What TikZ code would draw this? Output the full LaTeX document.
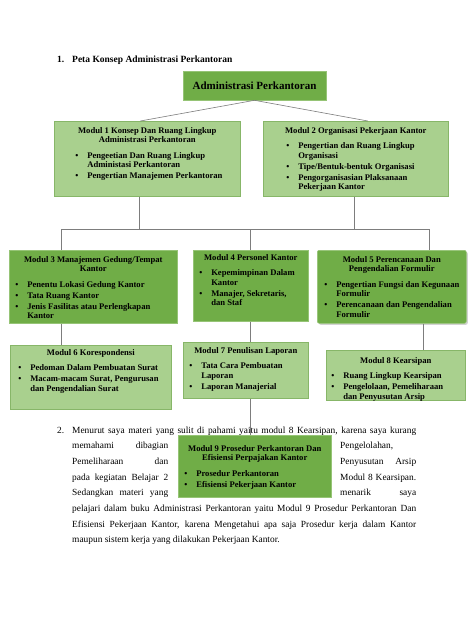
\documentclass[tikz,border=0pt]{standalone}
\usepackage{fontspec}
\setmainfont{Liberation Serif}
\usetikzlibrary{positioning, shadows}

\definecolor{grnMid}{RGB}{112,173,71}
\definecolor{grnMidEdge}{RGB}{150,196,118}
\definecolor{grnLight}{RGB}{169,208,142}
\definecolor{grnLightEdge}{RGB}{135,182,104}
\definecolor{lineGray}{RGB}{125,125,125}

\newcommand{\boxfont}{\bfseries\fontsize{8.6}{9.5}\selectfont}
\newcommand{\parafont}{\fontsize{9.4}{11}\selectfont}

% bullet lines inside a box
\newlength\bulind
\newlength\txtind
\newcommand{\itm}[1]{\par\vspace{1.5pt}{\let\\\newline
  \hangindent=\txtind\hangafter=1\noindent
  \hbox to \txtind{\hskip\bulind\textbullet\hfil}#1\par}}
% #1 width, #2 height, #3 top pad, #4 bullet indent, #5 title, #6 items
\newcommand{\panel}[6]{\parbox[c][#2][t]{#1}{\setlength\bulind{#4}%
  \setlength\txtind{\dimexpr#4+12pt\relax}\vspace*{#3}%
  {\centering #5\par}\vspace{4.5pt}\raggedright #6}}
% justified line of given width
\newcommand{\jline}[2]{\hbox to #1{\spaceskip=0.25em plus 1fil minus 0.05em\relax #2}}

\begin{document}
\begin{tikzpicture}[
    x=1pt, y=-1pt,
    midbox/.style={rectangle, draw=grnMidEdge, fill=grnMid, line width=0.6pt,
                   inner sep=0pt, anchor=north west, font=\boxfont},
    lightbox/.style={rectangle, draw=grnLightEdge, fill=grnLight, line width=0.6pt,
                   inner sep=0pt, anchor=north west, font=\boxfont},
    conn/.style={draw=lineGray, line width=0.6pt},
    para/.style={anchor=base west, inner sep=0pt, font=\parafont},
    head/.style={anchor=base west, inner sep=0pt, font=\bfseries\fontsize{9.5}{11}\selectfont}
]
\fill[white] (0,0) rectangle (474,632);
\useasboundingbox (0,0) rectangle (474,632);

% heading
\node[head] (h1num) at (57,62) {1.};
\node[head] (h1txt) at (72,62) {Peta Konsep Administrasi Perkantoran};

% root
\node[midbox, anchor=center, minimum width=143pt, minimum height=29pt,
      font=\bfseries\fontsize{11}{13}\selectfont] (top) at (254.5,85.5) {Administrasi Perkantoran};

% first level
\node[lightbox] (m1) at (54,121) {\panel{186pt}{75pt}{6pt}{21pt}
  {Modul 1 Konsep Dan Ruang Lingkup\\Administrasi Perkantoran}
  {\itm{Pengeetian Dan Ruang Lingkup\\Administasi Perkantoran}
   \itm{Pengertian Manajemen Perkantoran}}};
\node[lightbox] (m2) at (263,121) {\panel{185pt}{75pt}{6pt}{23pt}
  {Modul 2 Organisasi Pekerjaan Kantor}
  {\itm{Pengertian dan Ruang Lingkup\\Organisasi}
   \itm{Tipe/Bentuk-bentuk Organisasi}
   \itm{Pengorganisasian Plaksanaan\\Pekerjaan Kantor}}};

% second level
\node[midbox] (m3) at (9,250) {\panel{168pt}{73pt}{6pt}{6pt}
  {Modul 3 Manajemen Gedung/Tempat\\Kantor}
  {\itm{Penentu Lokasi Gedung Kantor}
   \itm{Tata Ruang Kantor}
   \itm{Jenis Fasilitas atau Perlengkapan\\Kantor}}};
\node[midbox] (m4) at (193,250) {\panel{115pt}{71pt}{4pt}{6pt}
  {Modul 4 Personel Kantor}
  {\itm{Kepemimpinan Dalam\\Kantor}
   \itm{Manajer, Sekretaris,\\dan Staf}}};
\node[midbox, rounded corners=2pt,
      drop shadow={shadow xshift=1.5pt, shadow yshift=-1.5pt, opacity=0.35}] (m5) at (317,250)
  {\panel{149pt}{73pt}{6pt}{7pt}
  {Modul 5 Perencanaan Dan\\Pengendalian Formulir}
  {\itm{Pengertian Fungsi dan Kegunaan\\Formulir}
   \itm{Perencanaan dan Pengendalian\\Formulir}}};

% third level
\node[lightbox] (m6) at (10,345) {\panel{161pt}{64pt}{4pt}{8pt}
  {Modul 6 Korespondensi}
  {\itm{Pedoman Dalam Pembuatan Surat}
   \itm{Macam-macam Surat, Pengurusan\\dan Pengendalian Surat}}};
\node[lightbox] (m7) at (183,342) {\panel{125pt}{56pt}{5pt}{6pt}
  {Modul 7 Penulisan Laporan}
  {\itm{Tata Cara Pembuatan\\Laporan}
   \itm{Laporan Manajerial}}};
\node[lightbox,
      drop shadow={shadow xshift=1pt, shadow yshift=-1pt, opacity=0.25}] (m8) at (326,350)
  {\panel{139pt}{50pt}{7pt}{5pt}
  {Modul 8 Kearsipan}
  {\itm{Ruang Lingkup Kearsipan}
   \itm{Pengelolaan, Pemeliharaan\\dan Penyusutan Arsip}}};

% paragraph 2
\node[para] (p2num) at (57,433) {2.};
\node[para] (p2l1) at (72,433) {\jline{344pt}{Menurut saya materi yang sulit di pahami yaitu modul 8 Kearsipan, karena saya kurang}};
\node[para] (p2l2a) at (72,448.7) {\jline{96pt}{memahami dibagian}};
\node[para] (p2l2b) at (340,448.7) {Pengelolahan,};
\node[para] (p2l3a) at (72,464.4) {\jline{96pt}{Pemeliharaan dan}};
\node[para] (p2l3b) at (340,464.4) {\jline{76pt}{Penyusutan Arsip}};
\node[para] (p2l4a) at (72,480.1) {\jline{96pt}{pada kegiatan Belajar 2}};
\node[para] (p2l4b) at (340,480.1) {\jline{76pt}{Modul 8 Kearsipan.}};
\node[para] (p2l5a) at (72,495.8) {\jline{96pt}{Sedangkan materi yang}};
\node[para] (p2l5b) at (340,495.8) {\jline{76pt}{menarik saya}};
\node[para] (p2l6) at (72,511.5) {\jline{344pt}{pelajari dalam buku Administrasi Perkantoran yaitu Modul 9 Prosedur Perkantoran Dan}};
\node[para] (p2l7) at (72,527.2) {\jline{344pt}{Efisiensi Pekerjaan Kantor, karena Mengetahui apa saja Prosedur kerja dalam Kantor}};
\node[para] (p2l8) at (72,542.9) {maupun sistem kerja yang dilakukan Pekerjaan Kantor.};

% module 9 sits inside the paragraph
\node[midbox] (m9) at (178,435) {\panel{153pt}{62pt}{10pt}{6pt}
  {Modul 9 Prosedur Perkantoran Dan\\Efisiensi Perpajakan Kantor}
  {\itm{Prosedur Perkantoran}
   \itm{Efisiensi Pekerjaan Kantor}}};

% connectors
\coordinate (busL) at (61,229);
\coordinate (busM) at (250,229);
\coordinate (busR) at (429,229);
\coordinate (dropR) at (423,229);
\draw[conn] (top.south) -- ([xshift=-7pt]m1.north);
\draw[conn] (top.south) -- ([xshift=12pt]m2.north);
\draw[conn] ([xshift=-8pt]m1.south) -- ([xshift=-8pt]m1.south |- busL);
\draw[conn] ([xshift=-2pt]m2.south) -- ([xshift=-2pt]m2.south |- busL);
\draw[conn] (busL) -- (busR);
\draw[conn] (busL) -- (busL |- m3.north);
\draw[conn] (busM) -- (busM |- m4.north);
\draw[conn] (busR) -- (busR |- m5.north);
\draw[conn] (m3.south -| busL) -- (m6.north -| busL);
\draw[conn] (m4.south -| busM) -- (m7.north -| busM);
\draw[conn] (m5.south -| dropR) -- (m8.north -| dropR);
\draw[conn] (m7.south -| busM) -- (m9.north -| busM);

\end{tikzpicture}
\end{document}
